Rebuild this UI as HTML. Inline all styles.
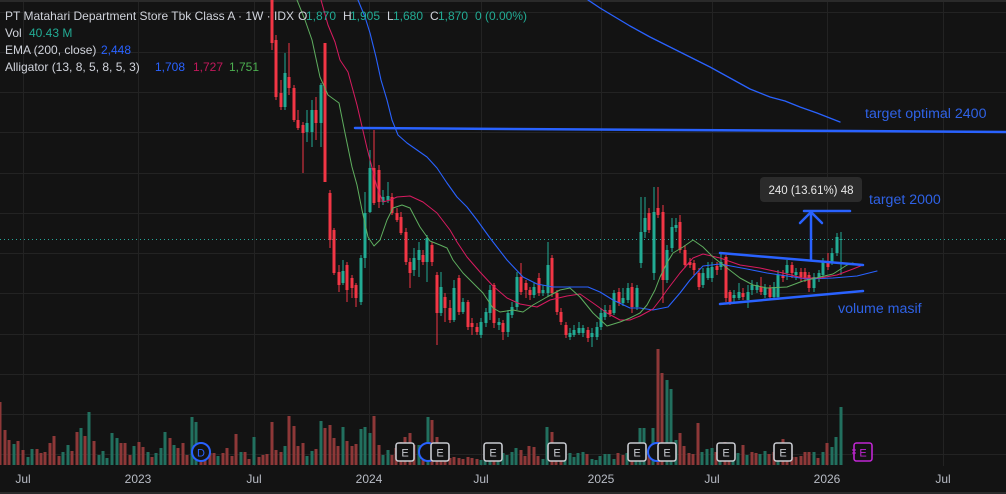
<!DOCTYPE html>
<html><head><meta charset="utf-8">
<style>
html,body{margin:0;padding:0;background:#131313;}
body{width:1006px;height:494px;overflow:hidden;position:relative;font-family:"Liberation Sans",sans-serif;}
svg{position:absolute;left:0;top:0;}
</style></head><body>
<svg id="c" width="1006" height="494" viewBox="0 0 1006 494" xmlns="http://www.w3.org/2000/svg" font-family="Liberation Sans, sans-serif">
<rect width="1006" height="494" fill="#131313"/>
<rect x="0" y="0" width="1006" height="2" fill="#2a2a2a"/>
<rect x="0" y="492" width="1006" height="2" fill="#2a2a2a"/>
<g id="grid" stroke="#232323" stroke-width="1"></g>
<line x1="0" y1="239.5" x2="1006" y2="239.5" stroke="#26a69a" stroke-width="1" stroke-dasharray="1,3"/>
<g id="vol"></g>
<g id="cand"></g>
<g id="lines" fill="none" stroke-linejoin="round" stroke-linecap="round"></g>

<!-- drawings -->
<g stroke="#2962ff" stroke-width="2.5" fill="none" stroke-linecap="round">
<line x1="355" y1="128" x2="1006" y2="132"/>
<line x1="720" y1="253" x2="863" y2="265"/>
<line x1="720" y1="304" x2="863" y2="291"/>
<line x1="804" y1="211" x2="850" y2="211"/>
<line x1="811" y1="260" x2="811" y2="212"/>
<polyline points="800,223 811,212 822,223"/>
</g>
<rect x="760" y="177" width="102" height="25" rx="4" fill="#2b2b2b"/>
<text x="811" y="194" font-size="11.5" fill="#e8e8e8" text-anchor="middle">240 (13.61%) 48</text>
<g font-size="14.2" fill="#2f62e6">
<text x="865" y="118">target optimal 2400</text>
<text x="869" y="204">target 2000</text>
<text x="838" y="313">volume masif</text>
</g>

<!-- event markers -->
<g id="marks"></g>

<!-- axis labels -->
<g font-size="12" fill="#b8bcc5" text-anchor="middle">
<text x="23" y="483">Jul</text>
<text x="138" y="483">2023</text>
<text x="254" y="483">Jul</text>
<text x="369" y="483">2024</text>
<text x="481" y="483">Jul</text>
<text x="601" y="483">2025</text>
<text x="712" y="483">Jul</text>
<text x="827" y="483">2026</text>
<text x="943" y="483">Jul</text>
</g>

<!-- legend -->
<g font-size="12" fill="#d1d4dc">
<text x="5" y="20">PT Matahari Department Store Tbk Class A · 1W · IDX</text>
<text x="298" y="20">O</text><text x="306" y="20" fill="#22ab94">1,870</text>
<text x="343" y="20">H</text><text x="350" y="20" fill="#22ab94">1,905</text>
<text x="387" y="20">L</text><text x="393" y="20" fill="#22ab94">1,680</text>
<text x="430" y="20">C</text><text x="438" y="20" fill="#22ab94">1,870</text>
<text x="475" y="20" fill="#22ab94">0 (0.00%)</text>
<text x="5" y="37">Vol</text><text x="29" y="37" fill="#22ab94">40.43 M</text>
<text x="5" y="54">EMA (200, close)</text><text x="101" y="54" fill="#2962ff">2,448</text>
<text x="5" y="71">Alligator (13, 8, 5, 8, 5, 3)</text>
<text x="155" y="71" fill="#2962ff">1,708</text>
<text x="193" y="71" fill="#c2185b">1,727</text>
<text x="229" y="71" fill="#4caf50">1,751</text>
</g>
</svg>
<script>
(function(){
var NS="http://www.w3.org/2000/svg";
function el(p,t,a){var e=document.createElementNS(NS,t);for(var k in a)e.setAttribute(k,a[k]);p.appendChild(e);return e;}
var g=document.getElementById('grid');
[12,52,92,132,173,213,253,293,334,374,414,454].forEach(function(y){el(g,'line',{x1:0,y1:y+0.5,x2:1006,y2:y+0.5});});
[23,138,254,369,481,601,712,827,943].forEach(function(x){el(g,'line',{x1:x+0.5,y1:2,x2:x+0.5,y2:466});});

var RED="#f23645",GRN="#22ab94",VR="#8e3838",VG="#22705f";
var vol=[[0,402,'r'],[5,430,'r'],[9,440,'r'],[14,444,'g'],[18,441,'r'],[23,450,'r'],[28,457,'g'],[32,449,'g'],[37,449,'r'],[41,453,'r'],[45,452,'r'],[50,443,'r'],[54,436,'r'],[59,456,'r'],[63,452,'g'],[68,445,'g'],[72,451,'r'],[77,432,'r'],[81,428,'g'],[85,436,'r'],[89,412,'g'],[94,441,'r'],[99,455,'g'],[103,451,'g'],[107,458,'g'],[112,433,'g'],[117,438,'g'],[121,443,'r'],[125,443,'r'],[130,455,'r'],[134,446,'g'],[139,442,'r'],[143,447,'r'],[148,452,'g'],[152,457,'r'],[156,453,'g'],[161,448,'g'],[165,432,'g'],[170,438,'r'],[174,445,'g'],[178,448,'r'],[183,443,'r'],[187,455,'r'],[192,417,'g'],[196,422,'g'],[201,450,'r'],[205,448,'r'],[210,453,'r'],[214,453,'r'],[218,456,'g'],[223,453,'r'],[227,448,'r'],[232,456,'r'],[236,434,'r'],[241,452,'g'],[245,452,'r'],[249,459,'r'],[254,437,'g'],[259,457,'r'],[263,455,'r'],[267,454,'r'],[272,422,'r'],[276,450,'r'],[281,452,'r'],[285,446,'g'],[289,416,'r'],[294,426,'r'],[298,446,'r'],[303,443,'r'],[307,456,'g'],[312,451,'g'],[316,449,'r'],[321,421,'g'],[325,428,'r'],[330,425,'r'],[334,438,'r'],[338,446,'r'],[343,427,'g'],[347,441,'r'],[352,446,'r'],[356,444,'r'],[361,429,'g'],[365,427,'g'],[370,433,'g'],[374,416,'r'],[379,445,'r'],[383,455,'g'],[388,450,'g'],[392,455,'r'],[396,448,'r'],[401,442,'r'],[405,437,'r'],[410,433,'r'],[414,445,'r'],[419,445,'g'],[423,445,'r'],[428,417,'g'],[432,420,'r'],[437,437,'r'],[441,450,'r'],[445,455,'r'],[450,458,'r'],[454,457,'r'],[459,458,'r'],[463,459,'r'],[468,457,'r'],[472,458,'r'],[477,459,'r'],[481,460,'g'],[485,457,'g'],[490,455,'g'],[494,455,'r'],[498,455,'g'],[503,453,'g'],[507,455,'g'],[512,452,'g'],[516,448,'g'],[521,450,'r'],[525,456,'r'],[529,446,'r'],[534,447,'r'],[538,456,'r'],[543,459,'g'],[547,427,'g'],[552,432,'r'],[556,450,'r'],[561,450,'r'],[565,455,'g'],[570,453,'g'],[574,457,'g'],[578,453,'g'],[583,452,'g'],[587,454,'r'],[592,459,'g'],[596,460,'g'],[600,456,'g'],[605,454,'g'],[609,454,'g'],[614,459,'g'],[618,453,'r'],[623,455,'r'],[627,453,'g'],[632,455,'r'],[636,452,'g'],[640,428,'g'],[644,428,'g'],[649,450,'r'],[653,428,'g'],[658,349,'r'],[662,373,'r'],[667,380,'g'],[671,389,'g'],[676,440,'g'],[680,433,'r'],[684,446,'r'],[689,453,'r'],[693,454,'r'],[698,423,'r'],[702,452,'g'],[707,449,'g'],[712,448,'g'],[716,452,'r'],[720,450,'g'],[725,442,'r'],[729,452,'r'],[733,452,'g'],[738,453,'g'],[743,445,'r'],[747,455,'g'],[752,452,'r'],[756,453,'r'],[760,454,'g'],[765,451,'g'],[769,454,'r'],[774,452,'r'],[778,452,'g'],[783,439,'r'],[787,452,'r'],[792,457,'r'],[796,457,'r'],[801,456,'r'],[805,452,'r'],[809,452,'r'],[814,452,'g'],[818,458,'r'],[823,452,'g'],[827,443,'r'],[832,447,'g'],[836,437,'g'],[841,407,'g']];
var vg=document.getElementById('vol');
vol.forEach(function(v){el(vg,'rect',{x:v[0]-1.5,y:v[1],width:3,height:465-v[1],fill:v[2]=='r'?VR:VG});});

var C=[[272,0,43,-5,50,'r'],[276,40,97,35,100,'r'],[281,93,107,80,110,'r'],[285,73,107,53,110,'g'],[289,77,88,43,95,'r'],[294,88,120,85,122,'r'],[298,120,128,110,130,'r'],[303,125,133,122,173,'r'],[307,123,132,110,142,'g'],[312,110,132,100,147,'g'],[316,110,123,97,140,'r'],[321,85,123,83,147,'g'],[325,43,182,43,182,'r'],[330,193,240,190,248,'r'],[334,230,273,228,275,'r'],[339,272,285,265,292,'r'],[343,271,283,260,285,'g'],[347,265,290,262,302,'r'],[352,278,288,275,298,'r'],[356,285,298,283,307,'r'],[361,258,302,255,305,'g'],[365,213,258,192,268,'g'],[370,168,212,150,213,'g'],[374,168,203,130,205,'r'],[379,170,202,165,208,'r'],[383,197,202,190,205,'g'],[388,196,200,182,203,'g'],[392,197,213,193,215,'r'],[397,213,220,208,222,'r'],[401,217,233,212,235,'r'],[406,232,262,228,265,'r'],[410,262,273,258,288,'r'],[414,258,270,248,276,'g'],[419,250,260,242,277,'g'],[423,255,262,250,265,'r'],[427,238,262,235,282,'g'],[432,245,262,242,266,'r'],[437,275,313,272,345,'r'],[441,287,313,272,316,'g'],[445,297,308,293,322,'r'],[450,308,320,300,323,'r'],[454,288,320,280,322,'g'],[459,278,312,275,315,'r'],[463,302,312,298,314,'g'],[468,302,327,300,330,'r'],[472,323,327,318,335,'r'],[477,327,332,323,335,'r'],[481,322,335,318,338,'g'],[486,312,323,308,327,'g'],[490,290,313,285,320,'g'],[494,285,323,283,328,'r'],[499,322,325,318,330,'g'],[503,323,332,320,340,'r'],[508,313,332,310,337,'g'],[512,307,315,302,318,'g'],[517,277,307,272,310,'g'],[521,277,292,263,295,'r'],[526,283,290,280,298,'r'],[530,290,295,287,300,'r'],[534,287,295,283,298,'g'],[539,278,293,273,296,'r'],[543,290,293,285,296,'g'],[548,265,293,242,296,'g'],[552,258,293,255,297,'r'],[557,293,312,290,315,'r'],[561,312,322,308,325,'r'],[566,325,335,322,338,'r'],[570,333,337,328,340,'g'],[574,330,335,325,337,'g'],[579,328,333,322,335,'g'],[583,328,333,325,337,'g'],[588,330,338,327,342,'r'],[592,333,337,328,347,'g'],[597,327,337,322,340,'g'],[601,313,327,308,330,'g'],[605,310,317,305,320,'g'],[610,310,314,305,317,'r'],[614,293,313,290,315,'g'],[619,292,303,288,306,'r'],[623,298,303,288,306,'g'],[628,288,300,283,303,'g'],[632,287,307,283,313,'r'],[637,288,307,285,310,'g'],[641,232,263,197,268,'g'],[645,218,232,197,238,'g'],[649,213,230,208,233,'r'],[654,212,273,187,280,'g'],[658,208,215,187,218,'r'],[663,212,280,205,303,'r'],[667,250,280,245,283,'g'],[672,227,248,218,252,'g'],[676,225,228,218,232,'g'],[680,222,250,215,253,'r'],[685,250,265,245,268,'r'],[690,262,265,258,268,'r'],[694,263,270,260,275,'r'],[699,273,287,268,290,'r'],[703,273,285,268,288,'g'],[708,268,278,262,280,'g'],[712,267,278,262,282,'g'],[717,266,270,262,275,'r'],[721,262,267,252,270,'g'],[726,257,298,255,302,'r'],[730,292,302,290,305,'r'],[734,295,298,290,302,'g'],[739,292,298,283,300,'g'],[743,293,297,288,300,'r'],[748,292,300,285,308,'g'],[752,285,290,280,295,'g'],[757,285,290,282,293,'g'],[761,287,292,277,295,'r'],[765,288,295,284,298,'g'],[770,288,297,285,300,'r'],[774,287,297,282,300,'g'],[778,275,297,270,300,'g'],[783,275,278,270,282,'r'],[787,265,273,260,280,'g'],[792,265,273,262,278,'r'],[796,272,275,268,280,'g'],[801,272,277,268,282,'r'],[805,272,278,268,282,'r'],[809,275,288,272,292,'r'],[814,277,288,273,292,'g'],[819,273,278,270,282,'g'],[823,262,275,258,278,'g'],[828,262,267,253,270,'r'],[832,253,262,248,265,'g'],[837,237,253,233,256,'g'],[841,239,240,232,275,'g']];
var cg=document.getElementById('cand');
C.forEach(function(c){var col=c[5]=='r'?RED:GRN;
 el(cg,'rect',{x:c[0]-0.5,y:c[3],width:1,height:c[4]-c[3],fill:col});
 el(cg,'rect',{x:c[0]-1.5,y:c[1],width:3,height:Math.max(1,c[2]-c[1]),fill:col});});

var lg=document.getElementById('lines');
function pl(pts,col,w){el(lg,'polyline',{points:pts.map(function(p){return p.join(',');}).join(' '),stroke:col,'stroke-width':w});}
var jaw=[[358,0],[365,17],[370,33],[376,57],[381,80],[387,100],[392,120],[398,135],[407,143],[417,150],[427,157],[437,168],[447,183],[457,197],[467,207],[477,220],[490,238],[507,260],[523,277],[537,284],[553,287],[573,287],[588,287],[600,292],[613,300],[630,308],[640,308],[653,310],[668,307],[680,293],[690,280],[703,266],[720,264],[747,269],[767,273],[787,276],[807,279],[833,278],[857,276],[877,271]];
var teeth=[[321,0],[328,25],[335,42],[340,60],[348,72],[357,105],[367,148],[377,187],[383,202],[390,200],[397,197],[410,196],[423,202],[437,213],[450,230],[457,242],[467,257],[480,272],[493,286],[507,298],[520,304],[537,307],[550,300],[567,296],[580,294],[593,303],[607,313],[620,320],[630,320],[640,316],[653,309],[660,300],[667,290],[680,273],[693,258],[703,254],[720,258],[740,265],[760,268],[783,273],[803,278],[820,278],[837,275],[853,269],[863,265]];
var lips=[[297,0],[305,20],[312,40],[320,77],[328,95],[339,103],[345,133],[352,167],[357,185],[362,210],[368,237],[374,246],[380,240],[387,220],[393,208],[402,205],[410,208],[420,227],[430,241],[440,245],[447,248],[453,260],[463,273],[473,283],[483,293],[493,308],[500,312],[513,310],[523,312],[533,305],[547,297],[560,290],[570,288],[580,297],[593,313],[607,326],[620,322],[630,318],[640,313],[647,305],[655,290],[660,277],[667,263],[673,253],[683,247],[693,240],[703,247],[713,257],[727,268],[740,278],[753,285],[767,288],[787,287],[803,281],[820,277],[833,274],[847,265],[853,263]];
var ema=[[588,0],[600,8],[615,17],[630,26],[650,37],[670,47],[690,57],[710,67],[730,78],[750,89],[770,97],[785,101],[800,107],[817,113],[840,122]];
pl(jaw,'#2962ff',1.1);pl(teeth,'#d81b60',1);pl(lips,'#5fae5f',1);pl(ema,'#2962ff',1.3);

var mg=document.getElementById('marks');
function circ(x){el(mg,'circle',{cx:x,cy:452,r:9,fill:'#131313',stroke:'#2962ff','stroke-width':2});}
function ebox(x,col){el(mg,'rect',{x:x-9,y:443,width:18,height:18,rx:2.5,fill:'#131313',stroke:col,'stroke-width':1.6});
 var t=el(mg,'text',{x:x,y:456.5,'font-size':11,'text-anchor':'middle',fill:col});t.textContent='E';}
circ(201);var d=el(mg,'text',{x:201,y:456.5,'font-size':11,'text-anchor':'middle',fill:'#2962ff'});d.textContent='D';
circ(428);circ(657);
[405,440,493,557,637,667,726,783].forEach(function(x){ebox(x,'#c8cad0');});
ebox(863,'#c026d3');
el(mg,'line',{x1:852,y1:450,x2:856,y2:450,stroke:'#c026d3','stroke-width':1});
el(mg,'line',{x1:852,y1:453,x2:856,y2:453,stroke:'#c026d3','stroke-width':1});
})();
</script>
</body></html>
